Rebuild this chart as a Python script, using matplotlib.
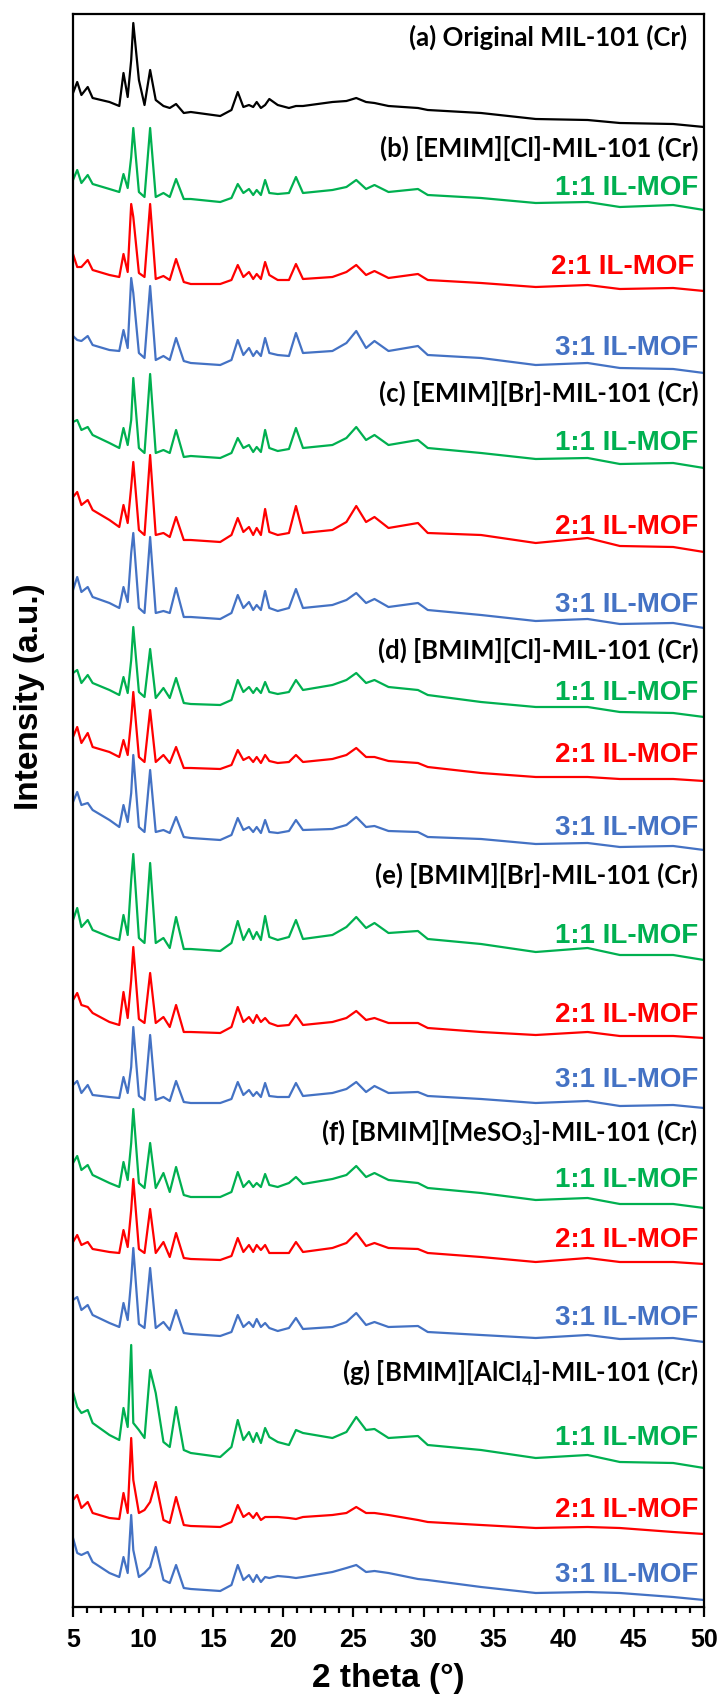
import matplotlib
matplotlib.use("Agg")
import matplotlib.pyplot as plt
from matplotlib.ticker import MultipleLocator

# === DATOS ===
# rejilla común de 2θ en grados
two_theta = [5.0, 5.3, 5.6, 6.05, 6.4, 7.6, 8.3, 8.6, 8.9, 9.15,
             9.3, 9.7, 10.1, 10.5, 10.9, 11.45, 11.9, 12.35, 12.9, 13.4,
             15.5, 16.3, 16.75, 17.15, 17.55, 17.85, 18.1, 18.4, 18.7, 19.0,
             19.6, 20.4, 20.9, 21.4, 23.5, 24.5, 25.2, 25.9, 26.5, 27.5,
             29.6, 30.3, 34.1, 38, 41.7, 44, 47.8, 50]

# intensidad relativa (u.a.) sobre el nivel final de cada curva
a_orig = [34, 45, 32, 40, 29, 25, 21, 54, 30, 67, 104, 47, 22, 57, 27, 21, 19, 23, 14, 15,
          11, 17, 35, 20, 22, 20, 25, 19, 22, 28, 22, 19, 21, 21, 25, 26, 29, 25, 24, 21,
          19, 17, 14, 8, 7, 4, 3, 0]
b_11 = [30, 40, 27, 35, 26, 21, 18, 36, 22, 53, 82, 18, 13, 82, 13, 17, 13, 31, 11, 11,
        8, 12, 26, 17, 21, 15, 20, 15, 30, 17, 16, 17, 33, 17, 20, 23, 30, 21, 25, 18,
        21, 15, 12, 7, 8, 3, 5, 0]
b_21 = [37, 24, 24, 31, 21, 16, 14, 37, 19, 87, 74, 18, 14, 87, 12, 15, 11, 32, 9, 7,
        7, 11, 26, 14, 19, 12, 17, 12, 29, 16, 11, 11, 27, 12, 14, 19, 26, 16, 20, 13,
        17, 11, 8, 4, 6, 2, 3, 0]
b_31 = [37, 33, 32, 37, 28, 23, 22, 43, 25, 95, 80, 20, 15, 87, 13, 17, 13, 35, 12, 10,
        8, 13, 33, 18, 25, 17, 22, 17, 35, 20, 18, 17, 40, 20, 22, 30, 42, 25, 32, 22,
        27, 18, 15, 8, 10, 5, 4, 0]
c_11 = [46, 48, 38, 41, 33, 25, 20, 40, 23, 48, 90, 20, 15, 94, 15, 18, 15, 38, 11, 12,
        10, 15, 30, 20, 23, 16, 21, 16, 38, 20, 17, 19, 40, 20, 23, 30, 41, 28, 33, 23,
        28, 20, 15, 9, 10, 4, 5, 0]
c_21 = [55, 60, 47, 52, 42, 32, 25, 47, 29, 65, 90, 22, 17, 97, 17, 19, 15, 35, 12, 12,
        10, 17, 34, 20, 25, 17, 24, 17, 43, 20, 17, 19, 46, 19, 22, 30, 46, 30, 35, 24,
        29, 19, 17, 9, 14, 6, 5, 0]
c_31 = [38, 51, 36, 41, 31, 25, 20, 41, 26, 75, 95, 20, 15, 91, 15, 17, 15, 40, 11, 11,
        9, 15, 33, 20, 26, 18, 23, 18, 37, 20, 17, 20, 39, 20, 23, 28, 35, 25, 29, 21,
        25, 18, 13, 7, 9, 4, 5, 0]
d_11 = [44, 47, 34, 42, 34, 27, 22, 40, 24, 57, 90, 25, 20, 68, 19, 29, 19, 39, 14, 13,
        12, 17, 37, 25, 30, 24, 29, 24, 35, 25, 23, 25, 37, 27, 32, 37, 44, 34, 37, 30,
        27, 22, 15, 10, 10, 5, 4, 0]
d_21 = [44, 54, 38, 48, 34, 29, 24, 41, 26, 61, 89, 24, 19, 71, 19, 26, 18, 34, 13, 13,
        12, 16, 31, 21, 24, 19, 24, 18, 26, 20, 18, 19, 26, 19, 22, 26, 33, 24, 24, 20,
        18, 14, 8, 4, 4, 2, 2, 0]
d_31 = [48, 58, 45, 47, 40, 30, 23, 45, 28, 57, 95, 23, 18, 80, 18, 20, 17, 33, 13, 12,
        10, 15, 32, 20, 23, 18, 23, 17, 30, 18, 17, 19, 30, 20, 21, 25, 33, 23, 24, 19,
        18, 13, 11, 6, 7, 3, 4, 0]
e_11 = [40, 52, 33, 40, 30, 23, 20, 45, 25, 80, 106, 22, 17, 97, 17, 22, 12, 43, 11, 11,
        9, 17, 39, 20, 31, 21, 28, 20, 44, 23, 20, 23, 40, 21, 25, 33, 43, 32, 37, 27,
        29, 21, 16, 8, 12, 5, 5, 0]
e_21 = [38, 45, 33, 31, 25, 16, 13, 46, 20, 58, 91, 19, 15, 65, 15, 21, 11, 33, 6, 6,
        5, 11, 31, 16, 21, 15, 23, 16, 20, 15, 12, 13, 23, 13, 16, 20, 27, 18, 20, 15,
        15, 10, 6, 3, 6, 2, 2, 0]
e_31 = [23, 27, 15, 23, 13, 11, 10, 31, 15, 41, 81, 12, 8, 73, 8, 11, 7, 27, 6, 5,
        5, 9, 26, 13, 18, 12, 16, 11, 25, 12, 11, 11, 25, 12, 15, 19, 26, 16, 22, 15,
        16, 12, 9, 5, 7, 2, 3, 0]
f_11 = [45, 52, 38, 43, 33, 25, 21, 46, 28, 65, 99, 25, 20, 65, 20, 35, 16, 41, 13, 11,
        11, 16, 36, 21, 27, 21, 25, 21, 34, 23, 21, 25, 31, 24, 29, 33, 42, 31, 35, 28,
        25, 20, 15, 8, 10, 4, 4, 0]
f_21 = [22, 29, 19, 22, 15, 12, 11, 34, 17, 54, 85, 15, 11, 55, 11, 22, 7, 31, 6, 5,
        4, 8, 26, 12, 19, 12, 19, 14, 19, 11, 11, 11, 22, 12, 16, 21, 31, 18, 21, 16,
        15, 11, 7, 2, 6, 2, 2, 0]
f_31 = [42, 45, 32, 37, 27, 19, 15, 39, 22, 62, 94, 18, 14, 74, 14, 20, 12, 32, 9, 8,
        6, 10, 27, 15, 20, 15, 23, 15, 19, 14, 11, 14, 24, 13, 15, 20, 29, 17, 20, 15,
        16, 10, 7, 4, 7, 3, 4, 0]
g_11 = [76, 61, 55, 58, 45, 33, 28, 60, 41, 123, 45, 38, 30, 98, 75, 26, 21, 61, 18, 15,
        11, 21, 48, 28, 36, 26, 35, 25, 40, 31, 26, 23, 38, 35, 30, 36, 51, 38, 39, 30,
        32, 23, 18, 10, 13, 6, 5, 0]
g_21 = [34, 39, 26, 32, 21, 16, 15, 41, 21, 96, 54, 21, 24, 32, 52, 14, 11, 37, 9, 8,
        7, 12, 29, 17, 21, 16, 21, 14, 17, 17, 17, 16, 15, 17, 19, 21, 27, 21, 21, 19,
        14, 12, 9, 6, 7, 6, 2, 0]
g_31 = [62, 47, 45, 48, 38, 27, 23, 43, 27, 85, 50, 23, 27, 33, 53, 20, 17, 35, 12, 11,
        9, 15, 35, 20, 25, 18, 25, 18, 23, 22, 24, 23, 22, 23, 28, 32, 35, 28, 29, 27,
        21, 20, 13, 7, 8, 7, 3, 0]

curves = [a_orig, b_11, b_21, b_31, c_11, c_21, c_31, d_11, d_21, d_31,
          e_11, e_21, e_31, f_11, f_21, f_31, g_11, g_21, g_31]
# desplazamiento vertical de cada patrón (u.a.)
offsets = [1480, 1397, 1316, 1234, 1139, 1055, 979, 890, 826, 757,
           647, 569, 499, 399, 343, 265, 139, 73, 7]

ratio_labels = ["1:1 IL-MOF", "2:1 IL-MOF", "3:1 IL-MOF"]
group_labels = ["(a) Original MIL-101 (Cr)",
                "(b) [EMIM][Cl]-MIL-101 (Cr)",
                "(c) [EMIM][Br]-MIL-101 (Cr)",
                "(d) [BMIM][Cl]-MIL-101 (Cr)",
                "(e) [BMIM][Br]-MIL-101 (Cr)",
                r"(f) [BMIM][MeSO$_\mathbf{3}$]-MIL-101 (Cr)",
                r"(g) [BMIM][AlCl$_\mathbf{4}$]-MIL-101 (Cr)"]

# === ESTILO ===
COLORS = ["#00B050", "#FF0000", "#4472C4"]
plt.rcParams["mathtext.fontset"] = "custom"
plt.rcParams["mathtext.rm"] = "Lato"
plt.rcParams["mathtext.bf"] = "Lato:bold"
ARIAL = ["Liberation Sans", "DejaVu Sans"]
CALIBRI = ["Lato", "DejaVu Sans"]

# posiciones de las etiquetas (x derecha en grados, y en u.a.)
group_label_pos = [(48.8, 1570), (49.6, 1459), (49.6, 1214), (49.6, 957),
                   (49.6, 732), (49.6, 475), (49.6, 235)]
ratio_label_pos = [(49.6, 1419), (49.3, 1340), (49.6, 1259),
                   (49.6, 1164), (49.6, 1080), (49.6, 1002),
                   (49.6, 914), (49.6, 852), (49.6, 779),
                   (49.6, 671), (49.6, 592), (49.6, 527),
                   (49.6, 427), (49.6, 367), (49.6, 289),
                   (49.6, 169), (49.6, 97), (49.6, 32)]

fig = plt.figure(figsize=(7.24, 17.04), dpi=100)
ax = fig.add_axes([73 / 724, 1 - 1607 / 1704, 631 / 724, 1593 / 1704])

for i, (ys, off) in enumerate(zip(curves, offsets)):
    color = "black" if i == 0 else COLORS[(i - 1) % 3]
    ax.plot(two_theta, [off + v for v in ys], color=color, lw=1.6,
            solid_joinstyle="round")

for txt, (x, y) in zip(group_labels, group_label_pos):
    ax.text(x, y, txt, ha="right", va="center", fontsize=18.5,
            family=CALIBRI, fontweight="bold", color="black")

for k, (x, y) in enumerate(ratio_label_pos):
    ax.text(x, y, ratio_labels[k % 3], ha="right", va="center", fontsize=20,
            family=ARIAL, fontweight="bold", color=COLORS[k % 3])

ax.set_xlim(5, 50)
ax.set_ylim(0, 1593)
ax.set_yticks([])
ax.xaxis.set_major_locator(MultipleLocator(5))
ax.xaxis.set_minor_locator(MultipleLocator(1))
ax.tick_params(axis="x", which="major", direction="out", length=7, width=1.6,
               pad=8)
ax.tick_params(axis="x", which="minor", direction="out", length=4.5, width=1.6)
for lab in ax.get_xticklabels():
    lab.set_fontfamily(ARIAL)
    lab.set_fontweight("bold")
    lab.set_fontsize(18)
for sp in ax.spines.values():
    sp.set_linewidth(1.6)

ax.set_xlabel("2 theta (°)", family=ARIAL, fontweight="bold", fontsize=24,
              labelpad=8)
fig.text(30 / 724, 1 - 697 / 1704, "Intensity (a.u.)", rotation=90,
         ha="center", va="center", family=ARIAL, fontweight="bold", fontsize=24)

fig.savefig("out.png", dpi=100)
